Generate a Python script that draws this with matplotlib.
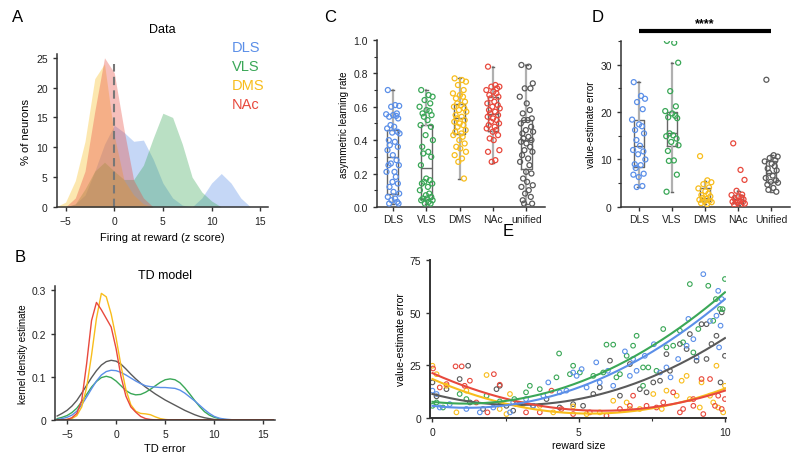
import matplotlib
matplotlib.use('Agg')
import matplotlib.pyplot as plt
import numpy as np
from matplotlib.ticker import MultipleLocator

plt.rcParams['font.family'] = ['Liberation Sans', 'DejaVu Sans']
plt.rcParams['font.size'] = 7

# ---------------- colours ----------------
C_DLS = '#5b8fe8'
C_VLS = '#3aa757'
C_DMS = '#f8bd1c'
C_NAC = '#e8493d'
C_UNI = '#5a5a5a'

# ---------------- Panel A data (histograms) ----------------
a_x = [-6, -5, -4, -3, -2, -1, 0, 1, 2, 3, 4, 5, 6, 7, 8, 9, 10, 11, 12, 13, 14]
a_dls = [0, 0, 0.5, 2, 6, 10.5, 13.7, 12.5, 11, 11.2, 8, 4, 1.5, 0.3, 0, 1.5, 4, 5.6, 4, 1.5, 0]
a_vls = [0, 0, 0.5, 3, 6, 7.5, 6, 4.6, 4.6, 7, 11.5, 15.7, 15, 10.5, 5, 2.5, 1, 0, 0, 0, 0]
a_dms = [0, 0.8, 4.4, 11, 21.5, 24, 12, 4.5, 2, 0.5, 0, 0, 0, 0, 0, 0, 0, 0, 0, 0, 0]
a_nac = [0, 0, 1.5, 6, 16, 25, 22.5, 13, 4.5, 1.5, 0, 0, 0, 0, 0, 0, 0, 0, 0, 0, 0]
a_labels = ['DLS', 'VLS', 'DMS', 'NAc']

# ---------------- Panel B data (KDE curves) ----------------
b_x = [-6, -5.5, -5, -4.5, -4, -3.5, -3, -2.5, -2, -1.5, -1, -0.5, 0, 0.5, 1, 1.5, 2, 2.5, 3, 3.5,
       4, 4.5, 5, 5.5, 6, 6.5, 7, 7.5, 8, 8.5, 9, 9.5, 10, 10.5, 11, 11.5, 12, 16]
b_dls = [0.001, 0.003, 0.006, 0.011, 0.02, 0.035, 0.053, 0.072, 0.09, 0.104, 0.112, 0.115, 0.114, 0.11,
         0.104, 0.097, 0.09, 0.084, 0.079, 0.077, 0.076, 0.075, 0.075, 0.074, 0.073, 0.069, 0.062, 0.053,
         0.044, 0.034, 0.024, 0.015, 0.008, 0.004, 0.002, 0.001, 0, 0]
b_vls = [0.003, 0.006, 0.01, 0.017, 0.027, 0.042, 0.059, 0.076, 0.089, 0.098, 0.101, 0.098, 0.09, 0.079,
         0.068, 0.061, 0.058, 0.059, 0.064, 0.071, 0.079, 0.087, 0.093, 0.095, 0.093, 0.086, 0.074, 0.06,
         0.045, 0.031, 0.019, 0.011, 0.006, 0.003, 0.001, 0, 0, 0]
b_uni = [0.009, 0.015, 0.022, 0.032, 0.045, 0.062, 0.08, 0.098, 0.114, 0.127, 0.135, 0.138, 0.136, 0.129,
         0.118, 0.106, 0.095, 0.085, 0.076, 0.068, 0.06, 0.053, 0.046, 0.04, 0.034, 0.028, 0.022, 0.017,
         0.012, 0.008, 0.005, 0.003, 0.001, 0, 0, 0, 0, 0]
b_dms = [0, 0, 0.001, 0.003, 0.01, 0.03, 0.075, 0.15, 0.235, 0.293, 0.285, 0.245, 0.19, 0.125,
         0.07, 0.035, 0.02, 0.015, 0.014, 0.012, 0.007, 0.003, 0.001, 0, 0, 0, 0, 0,
         0, 0, 0, 0, 0, 0, 0, 0, 0, 0]
b_nac = [0, 0, 0.001, 0.005, 0.015, 0.045, 0.13, 0.23, 0.272, 0.255, 0.235, 0.215, 0.165, 0.1,
         0.055, 0.03, 0.018, 0.008, 0.003, 0.001, 0, 0, 0, 0, 0, 0, 0, 0,
         0, 0, 0, 0, 0, 0, 0, 0, 0, 0]

# ---------------- Panel C data ----------------
c_labels = ['DLS', 'VLS', 'DMS', 'NAc', 'unified']
c_dls = [0.70, 0.61, 0.605, 0.60, 0.56, 0.555, 0.55, 0.545, 0.54, 0.53, 0.49, 0.48, 0.47, 0.45, 0.445,
         0.44, 0.40, 0.39, 0.37, 0.36, 0.34, 0.31, 0.28, 0.26, 0.25, 0.25, 0.21, 0.21, 0.18, 0.15, 0.14,
         0.12, 0.09, 0.08, 0.06, 0.05, 0.04, 0.03, 0.02, 0.02]
c_vls = [0.70, 0.67, 0.66, 0.64, 0.62, 0.60, 0.58, 0.575, 0.56, 0.55, 0.54, 0.52, 0.49, 0.48, 0.43,
         0.40, 0.36, 0.33, 0.32, 0.30, 0.25, 0.17, 0.16, 0.15, 0.14, 0.14, 0.12, 0.10, 0.08, 0.07, 0.06,
         0.05, 0.05, 0.04, 0.04, 0.03, 0.02, 0.02]
c_dms = [0.77, 0.76, 0.75, 0.73, 0.70, 0.68, 0.67, 0.66, 0.65, 0.63, 0.62, 0.61, 0.60, 0.59, 0.58,
         0.57, 0.55, 0.54, 0.53, 0.52, 0.51, 0.50, 0.49, 0.48, 0.46, 0.45, 0.44, 0.43, 0.42, 0.40, 0.38,
         0.36, 0.35, 0.33, 0.31, 0.29, 0.27, 0.17]
c_nac = [0.84, 0.73, 0.72, 0.72, 0.71, 0.70, 0.69, 0.68, 0.67, 0.66, 0.65, 0.63, 0.62, 0.61, 0.60,
         0.59, 0.58, 0.57, 0.56, 0.55, 0.54, 0.53, 0.52, 0.51, 0.50, 0.49, 0.48, 0.47, 0.46, 0.45, 0.43,
         0.41, 0.40, 0.34, 0.33, 0.28, 0.27]
c_uni = [0.85, 0.84, 0.74, 0.71, 0.71, 0.66, 0.62, 0.58, 0.56, 0.53, 0.52, 0.52, 0.50, 0.48, 0.46,
         0.45, 0.44, 0.42, 0.41, 0.40, 0.39, 0.38, 0.36, 0.34, 0.33, 0.31, 0.29, 0.27, 0.25, 0.21, 0.20,
         0.17, 0.15, 0.13, 0.12, 0.10, 0.08, 0.06, 0.04, 0.02, 0.02]
# box stats: whislo, q1, med, q3, whishi
c_box = [[0.02, 0.08, 0.30, 0.46, 0.70],
         [0.02, 0.05, 0.235, 0.49, 0.70],
         [0.165, 0.435, 0.53, 0.615, 0.77],
         [0.265, 0.455, 0.555, 0.66, 0.84],
         [0.02, 0.23, 0.40, 0.52, 0.85]]

# ---------------- Panel D data ----------------
d_labels = ['DLS', 'VLS', 'DMS', 'NAc', 'Unified']
d_dls = [26.3, 23.4, 22.8, 22.1, 20.6, 18.4, 17.4, 17.0, 16.2, 15.5, 14.1, 12.9, 12.0, 11.7, 11.1,
         10.0, 9.0, 8.8, 8.2, 7.0, 6.8, 6.3, 4.4, 4.2]
d_vls = [35.0, 34.6, 30.4, 24.4, 21.2, 20.2, 19.7, 19.2, 18.9, 18.7, 15.5, 15.1, 14.9, 14.4, 13.7,
         13.0, 11.8, 9.8, 9.7, 6.8, 3.2]
d_dms = [10.7, 5.6, 5.2, 4.8, 4.1, 3.9, 3.3, 2.8, 2.5, 2.2, 1.9, 1.7, 1.5, 1.3, 1.2, 1.0, 0.8, 0.6]
d_nac = [13.4, 7.8, 5.7, 3.4, 2.6, 2.5, 2.2, 2.0, 1.8, 1.6, 1.4, 1.3, 1.1, 1.0, 0.9, 0.7, 0.5, 0.4]
d_uni = [26.8, 10.9, 10.6, 10.3, 9.8, 9.6, 9.1, 8.6, 8.1, 7.7, 7.2, 6.6, 6.1, 5.6, 5.3, 5.1, 4.7,
         4.0, 3.6, 3.2]
d_box = [[4.3, 8.5, 12.9, 18.4, 26.3],
         [3.2, 12.9, 15.5, 20.0, 30.4],
         [0.6, 1.2, 1.9, 3.9, 5.5],
         [0.3, 0.9, 1.6, 2.6, 3.4],
         [3.2, 5.3, 7.2, 9.6, 11.0]]

# ---------------- Panel E data ----------------
e_dls_x = [0, 0.14, 0.25, 0.59, 1.16, 1.62, 2.08, 2.65, 2.76, 3.2, 3.44, 3.79, 3.96, 4.35, 4.58, 4.81,
           4.93, 5.1, 5.27, 5.6, 5.72, 6.0, 6.18, 6.58, 6.75, 6.86, 6.98, 7.26, 7.57, 7.78, 8.0, 8.14,
           8.4, 8.69, 8.75, 8.92, 9.03, 9.26, 9.49, 9.71, 9.77, 9.8, 9.85, 9.89]
e_dls_y = [13, 11.4, 5, 6.6, 4.3, 2.7, 5, 2.7, 7.4, 9, 5.8, 10.6, 16.9, 12.2, 13, 21.6,
           20, 23.2, 14.5, 26.4, 16.9, 22.4, 15.3, 31.6, 20, 28, 22.4, 29.5, 35, 21.6, 24, 19.3,
           28, 34.3, 47, 37.4, 28.8, 68.2, 46, 48.5, 60.3, 33.5, 43.8, 56.4]
e_vls_x = [0, 0.14, 0.36, 0.93, 1.16, 1.85, 2.3, 2.8, 3.2, 3.33, 3.67, 4.24, 4.33, 4.7, 4.81, 5.04,
           5.5, 5.84, 5.95, 6.18, 6.29, 6.41, 6.64, 6.86, 6.98, 7.2, 7.2, 7.38, 7.66, 7.89, 8.0, 8.23,
           8.46, 8.57, 8.8, 8.92, 9.09, 9.43, 9.6, 9.69, 9.83, 9.92, 10]
e_vls_y = [5.8, 7.4, 5, 11.4, 9, 10.6, 7.9, 9, 12.2, 15.3, 13.7, 19.3, 30.6, 20.8, 24.8, 21.6,
           20, 21.6, 34.8, 34.8, 19.3, 20.8, 29.5, 34.3, 39, 24, 15.3, 24, 22.4, 42.2, 33.5, 34.3,
           41.4, 35.9, 63.5, 31.1, 42.2, 62.7, 46.1, 56.4, 51.7, 51.6, 65.9]
e_dms_x = [0, 0.14, 0.48, 0.82, 1.16, 1.85, 2.3, 2.53, 2.65, 3.1, 3.67, 4.13, 4.81, 5.27, 5.72, 6.18,
           6.64, 6.75, 7.09, 7.55, 7.84, 8.0, 8.35, 8.52, 8.69, 8.8, 9.14, 9.2, 9.49, 9.6, 9.71, 9.77,
           9.94, 10]
e_dms_y = [24.8, 20.8, 15.3, 2.7, 13, 20.4, 4.3, 1.9, 11.4, 6.6, 5.8, 2.7, 5.5, 1.9, 2.7, 8.2,
           7.4, 4.3, 4.3, 11.4, 4.3, 13, 10.6, 17.7, 20, 9, 5, 16.9, 10.6, 7.4, 24.8, 5,
           2.7, 15.3]
e_nac_x = [0.02, 0.25, 0.48, 0.79, 1.0, 1.1, 1.28, 1.5, 1.88, 2.1, 2.3, 2.87, 3.2, 3.67, 4.07, 4.41,
           4.81, 5.38, 5.95, 6.41, 6.75, 6.86, 7.32, 7.66, 7.89, 8.23, 8.46, 8.57, 8.92, 8.92, 9.2,
           9.26, 9.49, 9.66, 9.77, 9.89, 10]
e_nac_y = [23.5, 14.5, 16.1, 24.5, 24.5, 15.3, 17.7, 7.4, 2.7, 20.8, 15.8, 6.6, 2.7, 2.7, 13, 4.3,
           1.9, 2.7, 1.1, 4.3, 5.8, 10.6, 5.8, 5, 7.4, 12.2, 2.7, 4.3, 9, 5.8, 18.5,
           1.9, 18.5, 5.8, 10.6, 4.3, 9]
e_uni_x = [0, 0.14, 0.48, 0.93, 1.22, 1.28, 1.73, 2.19, 2.3, 2.53, 2.76, 2.99, 3.44, 3.9, 4.35, 4.81,
           5.15, 5.5, 5.72, 6.07, 6.41, 6.75, 7.09, 7.32, 7.55, 7.78, 8.0, 8.12, 8.46, 8.69, 8.8, 9.03,
           9.2, 9.37, 9.37, 9.54, 9.71, 9.85, 9.89, 10]
e_uni_y = [16.9, 10.3, 13.7, 18.5, 24.8, 7.4, 4.3, 13.7, 15.3, 5.8, 3.5, 6.6, 5.8, 9, 5, 6.6,
           5.8, 11.4, 14.5, 27.2, 10.6, 25.6, 13.7, 12.2, 16.9, 17.7, 30.3, 22.4, 35.1, 32.7, 39.8, 27.2,
           44.5, 44.5, 28, 35.1, 39, 16.9, 50.1, 29.5]
# fitted (quadratic) curve values at reward sizes 0, 5, 10
e_fit_x = [0, 5, 10]
e_fit_dls = [5.8, 14.5, 56.4]
e_fit_vls = [7.7, 16.9, 59.6]
e_fit_dms = [18.5, 2.2, 14.0]
e_fit_nac = [21.3, 3.8, 13.0]
e_fit_uni = [11.4, 9.0, 37.9]

# jitter pattern for strip plots
jitter = [-0.15, 0.07, 0.19, -0.05, 0.12, -0.20, 0.01, 0.10, -0.11, 0.16, -0.07, 0.04, -0.17, 0.14,
          -0.02, 0.20, -0.12, 0.06, -0.09, 0.15, -0.16, 0.00, 0.11, -0.06, 0.18, -0.13, 0.05, -0.19,
          0.09, -0.01, 0.15, -0.10, 0.02, 0.19, -0.15, 0.07, -0.04, 0.13, -0.11, 0.17, -0.07, 0.01]

AX_COLOR = '#333333'


def style_axes(ax):
    for s in ['top', 'right']:
        ax.spines[s].set_visible(False)
    for s in ['left', 'bottom']:
        ax.spines[s].set_color(AX_COLOR)
        ax.spines[s].set_linewidth(1.1)
    ax.tick_params(colors=AX_COLOR, labelcolor='#222222', length=3, width=1, labelsize=7.5)
    ax.tick_params(which='minor', length=2, width=0.8, colors=AX_COLOR)


fig = plt.figure(figsize=(8, 4.6), dpi=100)

# ---------------- Panel A ----------------
axA = fig.add_axes([0.071, 0.548, 0.264, 0.332])
for ys, col in zip([a_dls, a_vls, a_dms, a_nac], [C_DLS, C_VLS, C_DMS, C_NAC]):
    axA.fill_between(a_x, ys, 0, color=col, alpha=0.35, linewidth=0)
axA.plot([0, 0], [0, 24], color='#777777', lw=1.5, ls=(0, (4, 2.5)))
axA.set_xlim(-5.9, 15.8)
axA.set_ylim(0, 25.6)
axA.set_xticks([-5, 0, 5, 10, 15])
axA.set_yticks([0, 5, 10, 15, 20, 25])
style_axes(axA)
axA.set_xlabel('Firing at reward (z score)', fontsize=8, labelpad=4)
axA.set_ylabel('% of neurons', fontsize=8, labelpad=4)
axA.set_title('Data', fontsize=9, pad=16)
for i, (lab, col) in enumerate(zip(a_labels, [C_DLS, C_VLS, C_DMS, C_NAC])):
    fig.text(0.29, 0.896 - i * 0.0415, lab, color=col, fontsize=10.5, va='center', ha='left')

# ---------------- Panel B ----------------
axB = fig.add_axes([0.069, 0.085, 0.275, 0.291])
for ys, col in zip([b_uni, b_vls, b_dls, b_dms, b_nac], [C_UNI, C_VLS, C_DLS, C_DMS, C_NAC]):
    axB.plot(b_x, ys, color=col, lw=1.0)
axB.set_xlim(-6.2, 16.2)
axB.set_ylim(0, 0.31)
axB.set_xticks([-5, 0, 5, 10, 15])
axB.set_yticks([0, 0.1, 0.2, 0.3])
axB.set_yticklabels(['0', '0.1', '0.2', '0.3'])
style_axes(axB)
axB.set_xlabel('TD error', fontsize=8, labelpad=3)
axB.set_ylabel('kernel density estimate', fontsize=7, labelpad=3)
axB.set_title('TD model', fontsize=9, pad=6)


def box_strip(ax, groups, boxes, cols, width, box_col):
    stats = []
    for b in boxes:
        stats.append(dict(whislo=b[0], q1=b[1], med=b[2], q3=b[3], whishi=b[4], fliers=[]))
    ax.bxp(stats, positions=range(len(boxes)), widths=width, showfliers=False,
           boxprops=dict(color=box_col, lw=1.0),
           whiskerprops=dict(color='#b0b0b0', lw=1.6),
           capprops=dict(color=box_col, lw=1.0),
           medianprops=dict(color=box_col, lw=1.0),
           capwidths=0.08, manage_ticks=False)
    for i, (ys, col) in enumerate(zip(groups, cols)):
        xs = [i + jitter[k % len(jitter)] for k in range(len(ys))]
        ax.scatter(xs, ys, s=13, facecolors='none', edgecolors=col, linewidths=0.9, zorder=3)


# ---------------- Panel C ----------------
axC = fig.add_axes([0.471, 0.548, 0.21, 0.363])
box_strip(axC, [c_dls, c_vls, c_dms, c_nac, c_uni], c_box,
          [C_DLS, C_VLS, C_DMS, C_NAC, C_UNI], 0.32, '#666666')
axC.set_xlim(-0.48, 4.55)
axC.set_ylim(0, 1.0)
axC.set_xticks(range(5))
axC.set_xticklabels(c_labels)
axC.yaxis.set_major_locator(MultipleLocator(0.2))
axC.yaxis.set_minor_locator(MultipleLocator(0.1))
axC.set_yticklabels([f'{v:.1f}' for v in axC.get_yticks()])
style_axes(axC)
axC.tick_params(axis='x', pad=2)
axC.set_ylabel('asymmetric learning rate', fontsize=7, labelpad=3)

# ---------------- Panel D ----------------
axD = fig.add_axes([0.776, 0.548, 0.211, 0.361])
box_strip(axD, [d_dls, d_vls, d_dms, d_nac, d_uni], d_box,
          [C_DLS, C_VLS, C_DMS, C_NAC, C_UNI], 0.3, '#666666')
axD.set_xlim(-0.54, 4.55)
axD.set_ylim(0, 35)
axD.set_xticks(range(5))
axD.set_xticklabels(d_labels)
axD.set_yticks([0, 10, 20, 30])
axD.yaxis.set_minor_locator(MultipleLocator(5))
style_axes(axD)
axD.tick_params(axis='x', pad=2)
axD.set_ylabel('value-estimate error', fontsize=7, labelpad=3)
axD.plot([0, 4], [37.1, 37.1], color='black', lw=3, clip_on=False, solid_capstyle='butt')
axD.text(2, 37.5, '****', ha='center', va='bottom', fontsize=9, fontweight='bold')

# ---------------- Panel E ----------------
axE = fig.add_axes([0.538, 0.089, 0.37, 0.344])
xx = np.linspace(0, 10, 200)
groups_E = [(e_uni_x, e_uni_y, e_fit_uni, C_UNI), (e_dms_x, e_dms_y, e_fit_dms, C_DMS),
            (e_nac_x, e_nac_y, e_fit_nac, C_NAC), (e_vls_x, e_vls_y, e_fit_vls, C_VLS),
            (e_dls_x, e_dls_y, e_fit_dls, C_DLS)]
for gx, gy, fit, col in groups_E:
    axE.scatter(gx, gy, s=11, facecolors='none', edgecolors=col, linewidths=0.8, zorder=2)
for gx, gy, fit, col in groups_E:
    coef = np.polyfit(e_fit_x, fit, 2)
    axE.plot(xx, np.polyval(coef, xx), color=col, lw=1.5, zorder=3)
axE.set_xlim(-0.07, 10.05)
axE.set_ylim(0, 75)
axE.set_xticks([0, 5, 10])
axE.xaxis.set_minor_locator(MultipleLocator(2.5))
axE.set_yticks([0, 25, 50, 75])
style_axes(axE)
axE.spines['left'].set_linewidth(1.4)
axE.spines['bottom'].set_linewidth(1.4)
axE.set_xlabel('reward size', fontsize=7.5, labelpad=2)
axE.set_ylabel('value-estimate error', fontsize=7.5, labelpad=3)

# ---------------- panel letters ----------------
for lab, x, y in [('A', 18, 18), ('B', 20, 258), ('C', 330, 18), ('D', 598, 18), ('E', 508, 232)]:
    fig.text(x / 800, 1 - y / 460, lab, fontsize=12, ha='center', va='center')

fig.savefig('out.png', dpi=100)
